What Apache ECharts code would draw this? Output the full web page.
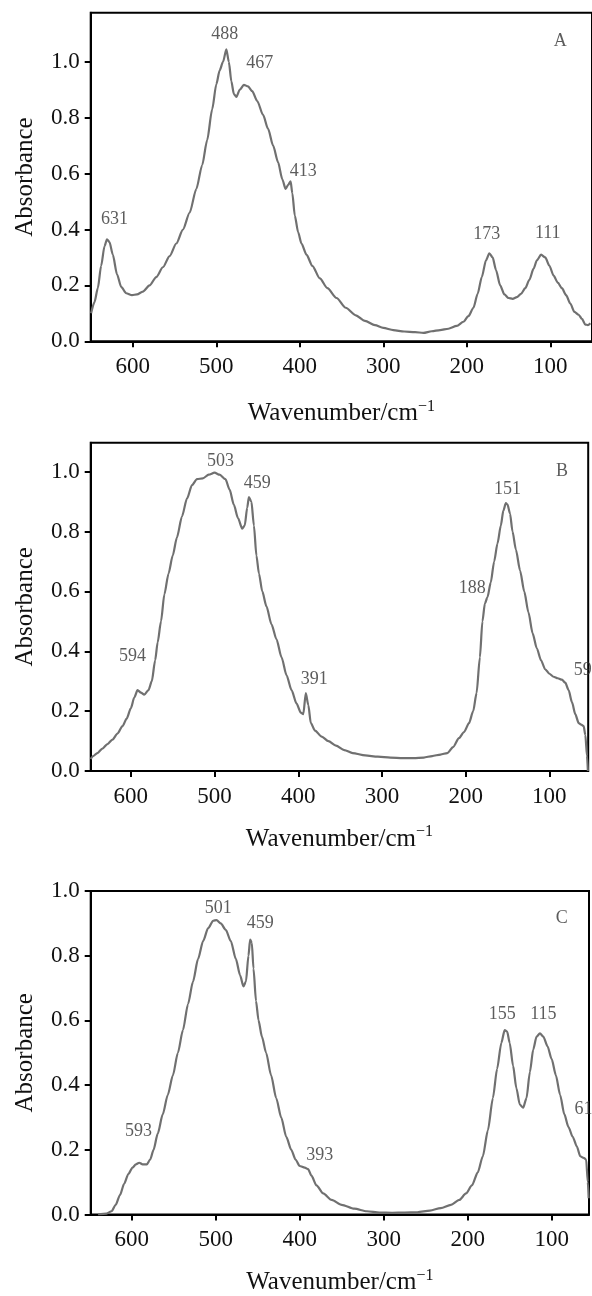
<!DOCTYPE html>
<html>
<head>
<meta charset="utf-8">
<script src="https://cdn.jsdelivr.net/npm/echarts@6/dist/echarts.min.js"></script>
<style>
html,body{margin:0;padding:0;background:#fff;}
#chart{width:592px;height:1296px;}
</style>
</head>
<body>
<div id="chart"></div>
<script>
// ---------- DATA ----------
const xTicks = [600, 500, 400, 300, 200, 100];
const yTicks = [0, 0.2, 0.4, 0.6, 0.8, 1.0];

// Panel A
const wnA  = [650,646,642,638,634,631,628,624,619,614,608,601,595,588,580,572,564,556,548,540,532,524,517,511,505,500,496,492,488,485,482,479,476,472,467,462,457,451,444,438,432,426,421,417,414,411,409,406,402,398,392,385,376,367,356,345,333,322,310,300,288,275,262,252,242,232,222,212,204,198,192,187,182,177,173,169,165,160,155,150,145,140,135,130,125,120,116,111,106,101,96,91,86,81,76,71,66,62,58,55,52];
const absA = [0.10,0.14,0.19,0.27,0.34,0.365,0.355,0.31,0.24,0.195,0.172,0.165,0.168,0.178,0.20,0.23,0.265,0.305,0.35,0.40,0.46,0.545,0.63,0.72,0.83,0.92,0.97,1.00,1.045,1.0,0.93,0.885,0.875,0.90,0.918,0.912,0.895,0.86,0.81,0.76,0.70,0.64,0.58,0.545,0.56,0.572,0.53,0.45,0.39,0.35,0.31,0.27,0.225,0.19,0.155,0.12,0.093,0.073,0.058,0.048,0.04,0.035,0.033,0.03,0.036,0.04,0.045,0.055,0.07,0.09,0.12,0.17,0.23,0.29,0.315,0.30,0.255,0.20,0.168,0.155,0.152,0.158,0.17,0.19,0.22,0.26,0.29,0.31,0.30,0.27,0.235,0.21,0.19,0.165,0.135,0.105,0.095,0.08,0.06,0.058,0.065];
const labA  = ['631','488','467','413','173','111','A'];
const labXA = [622, 490, 448, 396, 176, 103, 88];
const labYA = [0.437, 1.10, 0.995, 0.607, 0.383, 0.387, 1.073];

// Panel B
const wnB  = [648,645,640,634,628,622,616,610,605,600,596,592,588,584,579,575,571,568,564,560,555,550,545,539,533,527,521,514,507,500,494,487,482,477,472,467,464,461,459,456,453,450,447,443,438,432,426,420,414,408,402,397,394,391,388,385,380,372,364,355,345,335,320,305,290,275,262,250,240,230,222,215,208,202,196,191,187,183,180,177,174,170,166,162,158,155,152,150,147,144,140,135,130,125,120,115,110,105,100,95,90,85,81,77,73,69,65,62,59,57,55,54];
const absB = [0.04,0.05,0.06,0.075,0.09,0.105,0.125,0.15,0.175,0.21,0.245,0.27,0.262,0.255,0.27,0.30,0.37,0.43,0.50,0.59,0.66,0.72,0.78,0.85,0.91,0.955,0.975,0.978,0.99,0.997,0.99,0.975,0.94,0.89,0.845,0.81,0.82,0.88,0.915,0.90,0.82,0.72,0.66,0.60,0.55,0.49,0.44,0.38,0.32,0.27,0.225,0.195,0.19,0.26,0.22,0.16,0.135,0.115,0.10,0.085,0.07,0.06,0.052,0.048,0.045,0.043,0.043,0.045,0.05,0.055,0.06,0.08,0.11,0.13,0.16,0.20,0.26,0.38,0.50,0.56,0.58,0.63,0.70,0.76,0.82,0.87,0.895,0.89,0.86,0.80,0.74,0.67,0.60,0.53,0.46,0.41,0.37,0.34,0.325,0.315,0.31,0.305,0.295,0.27,0.23,0.19,0.16,0.155,0.15,0.12,0.05,0.0];
const labB  = ['594','503','459','391','188','151','59','B'];
const labXB = [598, 493, 449, 381, 192, 150, 60, 85];
const labYB = [0.382, 1.036, 0.963, 0.306, 0.611, 0.94, 0.337, 1.0];

// Panel C
const wnC  = [640,630,624,619,614,609,604,599,595,591,587,582,578,574,569,563,557,551,545,539,533,527,521,515,509,503,499,494,488,482,476,471,467,464,461,459,457,455,452,449,445,440,434,428,422,416,410,405,400,394,390,386,380,372,362,350,335,320,305,290,275,260,245,232,220,210,202,195,188,182,176,170,165,160,156,153,150,146,142,138,134,130,126,122,118,114,110,105,100,95,90,85,80,75,70,66,62,59,57,56];
const absC = [0.0,0.003,0.01,0.03,0.06,0.095,0.125,0.145,0.155,0.16,0.155,0.155,0.17,0.20,0.25,0.31,0.37,0.43,0.50,0.57,0.65,0.72,0.79,0.845,0.885,0.908,0.91,0.90,0.88,0.845,0.79,0.74,0.705,0.72,0.80,0.85,0.84,0.76,0.66,0.60,0.55,0.50,0.43,0.36,0.30,0.24,0.20,0.17,0.15,0.145,0.14,0.12,0.09,0.065,0.045,0.03,0.018,0.01,0.006,0.005,0.006,0.007,0.012,0.02,0.03,0.045,0.065,0.09,0.13,0.18,0.26,0.36,0.45,0.53,0.57,0.565,0.53,0.46,0.39,0.34,0.33,0.36,0.44,0.51,0.55,0.56,0.55,0.52,0.48,0.43,0.37,0.31,0.27,0.24,0.21,0.18,0.175,0.17,0.10,0.05];
const labC  = ['593','501','459','393','155','115','61','C'];
const labXC = [592, 497, 447, 376, 159, 110, 62, 88];
const labYC = [0.256, 0.948, 0.90, 0.184, 0.618, 0.618, 0.326, 0.915];

// ---------- LAYOUT ----------
const FONT = 'Liberation Serif, Times New Roman, serif';
const panels = [
  {wn: wnA, ab: absA, lab: labA, lx: labXA, ly: labYA, xMin: 50,   xMax: 650.5, yMax: 1.176,
   grid: {left: 90.7, top: 12.7, width: 505, height: 328.6}, nameGap: 57},
  {wn: wnB, ab: absB, lab: labB, lx: labXB, ly: labYB, xMin: 53.6, xMax: 648,   yMax: 1.097,
   grid: {left: 90.7, top: 442.7, width: 497.5, height: 328.3}, nameGap: 53},
  {wn: wnC, ab: absC, lab: labC, lx: labXC, ly: labYC, xMin: 55.6, xMax: 648.8, yMax: 1.0,
   grid: {left: 90.7, top: 891, width: 498.3, height: 325.7}, nameGap: 53}
];

const grids = [], xAxes = [], yAxes = [], series = [];
panels.forEach((p, i) => {
  grids.push(Object.assign({show: true, borderColor: '#000', borderWidth: 2, backgroundColor: 'transparent'}, p.grid));
  xAxes.push({
    type: 'value', gridIndex: i, inverse: true, min: p.xMin, max: p.xMax,
    splitLine: {show: false},
    axisLine: {show: true, onZero: false, lineStyle: {color: '#000', width: 2}},
    axisTick: {show: true, length: 6, lineStyle: {color: '#000', width: 2}, customValues: xTicks},
    axisLabel: {customValues: xTicks, fontFamily: FONT, fontSize: 23, color: '#111', margin: 14},
    name: 'Wavenumber/cm{sup|\u22121}', nameLocation: 'middle', nameGap: p.nameGap,
    nameTextStyle: {fontFamily: FONT, fontSize: 25, color: '#111',
      rich: {sup: {fontFamily: FONT, fontSize: 16, color: '#111', verticalAlign: 'top', lineHeight: 30}}}
  });
  yAxes.push({
    type: 'value', gridIndex: i, min: 0, max: p.yMax,
    splitLine: {show: false},
    axisLine: {show: true, onZero: false, lineStyle: {color: '#000', width: 2}},
    axisTick: {show: true, length: 6, lineStyle: {color: '#000', width: 2}, customValues: yTicks},
    axisLabel: {customValues: yTicks, fontFamily: FONT, fontSize: 23, color: '#111', margin: 11,
      formatter: v => v.toFixed(1)},
    name: 'Absorbance', nameLocation: 'middle', nameGap: 53, nameRotate: 90,
    nameTextStyle: {fontFamily: FONT, fontSize: 25, color: '#111'}
  });
  series.push({
    type: 'line', xAxisIndex: i, yAxisIndex: i, showSymbol: false, symbol: 'none',
    smooth: 0.25, smoothMonotone: 'x',
    lineStyle: {color: '#707070', width: 2.2},
    data: p.wn.map((w, k) => [w, p.ab[k]]),
    z: 3
  });
  series.push({
    type: 'scatter', xAxisIndex: i, yAxisIndex: i, symbolSize: 1, clip: false,
    itemStyle: {color: 'transparent'},
    label: {show: true, position: 'inside', formatter: '{b}', fontFamily: FONT, fontSize: 18, color: '#333'},
    data: p.lab.map((t, k) => ({name: t, value: [p.lx[k], p.ly[k]]})),
    z: 4
  });
});

const chart = echarts.init(document.getElementById('chart'), null, {renderer: 'canvas'});
chart.setOption({
  backgroundColor: '#ffffff',
  animation: false,
  grid: grids, xAxis: xAxes, yAxis: yAxes, series: series
});
</script>
</body>
</html>
